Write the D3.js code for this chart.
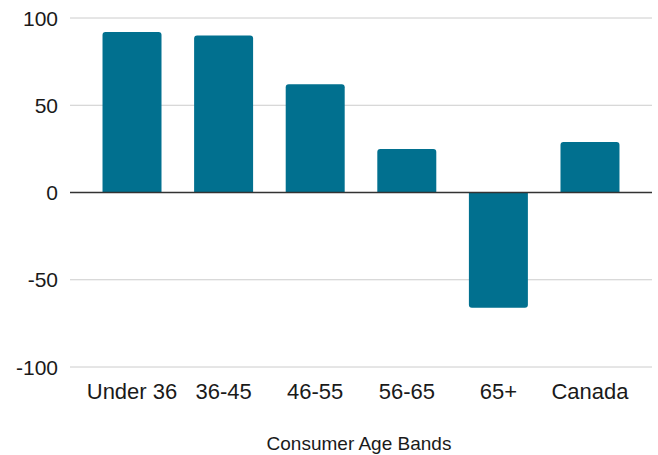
<!DOCTYPE html>
<html>
<head>
<meta charset="utf-8">
<script src="https://cdn.jsdelivr.net/npm/d3@7"></script>
<style>
  html, body { margin: 0; padding: 0; background: #fff; }
  svg { display: block; }
  text { font-family: "Liberation Sans", Arial, sans-serif; fill: #1a1a1a; }
</style>
</head>
<body>
<script>
const categories = ["Under 36", "36-45", "46-55", "56-65", "65+", "Canada"];
const values = [92, 90, 62, 25, -66, 29];
const yTicks = [-100, -50, 0, 50, 100];
const xTitle = "Consumer Age Bands";

(function () {
const W = 658, H = 455;
const mLeft = 70, mRight = 652, mTop = 18, mBottom = 367;

const svg = d3.select("body").append("svg").attr("width", W).attr("height", H);

const x = d3.scaleBand().domain(categories).range([mLeft, mRight]).paddingInner(0.356).paddingOuter(0.355);
const y = d3.scaleLinear().domain([-100, 100]).range([mBottom, mTop]);

// grid
svg.append("g").selectAll("line").data(yTicks.filter(d => d !== 0)).join("line")
  .attr("x1", mLeft).attr("x2", mRight)
  .attr("y1", d => y(d)).attr("y2", d => y(d))
  .attr("stroke", "#cccccc").attr("stroke-width", 1);

// y labels
svg.append("g").selectAll("text").data(yTicks).join("text")
  .attr("x", 58).attr("y", d => y(d)).attr("dy", "0.36em")
  .attr("text-anchor", "end").style("font-size", "21px")
  .text(d => d);

// bars
const r = 3;
function barPath(d, i) {
  const x0 = x(categories[i]), w = x.bandwidth();
  const y0 = y(0), y1 = y(d);
  if (d >= 0) {
    return `M${x0},${y0}V${y1 + r}Q${x0},${y1} ${x0 + r},${y1}H${x0 + w - r}Q${x0 + w},${y1} ${x0 + w},${y1 + r}V${y0}Z`;
  } else {
    return `M${x0},${y0}V${y1 - r}Q${x0},${y1} ${x0 + r},${y1}H${x0 + w - r}Q${x0 + w},${y1} ${x0 + w},${y1 - r}V${y0}Z`;
  }
}
svg.append("g").selectAll("path").data(values).join("path")
  .attr("d", (d, i) => barPath(d, i))
  .attr("fill", "#01708f");

// zero line
svg.append("line").attr("x1", mLeft).attr("x2", mRight)
  .attr("y1", y(0)).attr("y2", y(0))
  .attr("stroke", "#333333").attr("stroke-width", 1.3);

// x labels
svg.append("g").selectAll("text").data(categories).join("text")
  .attr("x", d => x(d) + x.bandwidth() / 2).attr("y", 399)
  .attr("text-anchor", "middle").style("font-size", "22px")
  .text(d => d);

svg.append("text").attr("x", 359).attr("y", 450)
  .attr("text-anchor", "middle").style("font-size", "19px")
  .text(xTitle);
})();
</script>
</body>
</html>
